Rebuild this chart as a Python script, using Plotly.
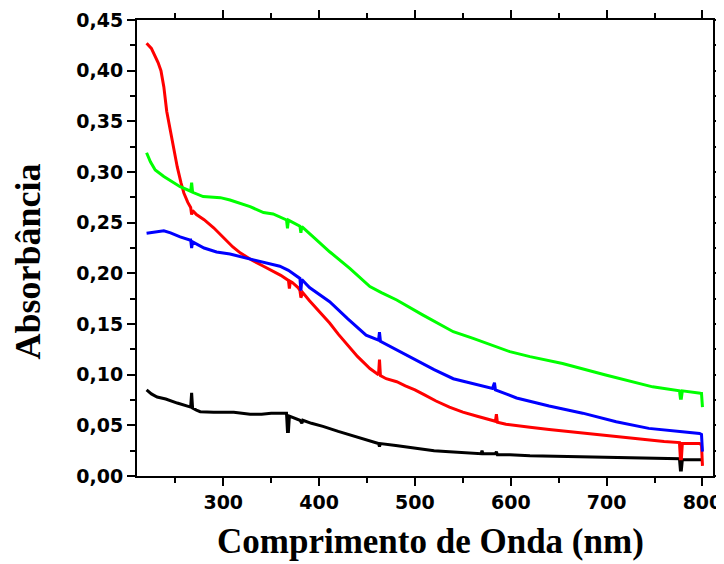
import plotly.graph_objects as go

red_x = [220, 225, 232, 235, 238, 241, 245, 249, 252, 256, 259, 263, 266, 267, 268, 272, 280, 290, 300, 310, 318, 330, 342, 352, 360, 368, 369, 370, 372, 378, 380, 381, 383, 390, 400, 411, 420, 430, 440, 453, 462, 463, 464, 470, 481, 490, 500, 510, 522, 536, 550, 565, 575, 584, 585, 586, 595, 606, 620, 640, 660, 675, 700, 720, 744, 760, 776, 777, 778, 779, 785, 797, 799, 800]
red_y = [0.427, 0.422, 0.408, 0.400, 0.384, 0.360, 0.340, 0.318, 0.305, 0.289, 0.279, 0.270, 0.265, 0.258, 0.262, 0.258, 0.253, 0.245, 0.236, 0.226, 0.220, 0.213, 0.207, 0.202, 0.198, 0.193, 0.185, 0.192, 0.191, 0.186, 0.183, 0.176, 0.181, 0.173, 0.163, 0.151, 0.140, 0.129, 0.118, 0.106, 0.100, 0.115, 0.099, 0.096, 0.093, 0.089, 0.085, 0.080, 0.074, 0.068, 0.063, 0.059, 0.056, 0.054, 0.061, 0.053, 0.051, 0.050, 0.048, 0.046, 0.044, 0.042, 0.040, 0.038, 0.0355, 0.034, 0.033, 0.017, 0.017, 0.032, 0.032, 0.032, 0.031, 0.010]

black_x = [220, 225, 231, 240, 252, 260, 265, 266, 267, 268, 272, 276, 290, 311, 328, 340, 350, 366, 367, 368, 369, 375, 380, 382, 383, 392, 404, 420, 440, 453, 462, 463, 464, 480, 501, 520, 536, 550, 569, 570, 571, 584, 585, 586, 599, 620, 650, 675, 700, 744, 776, 777, 778, 779, 797, 800]
black_y = [0.085, 0.081, 0.078, 0.076, 0.072, 0.070, 0.068, 0.068, 0.082, 0.067, 0.065, 0.0635, 0.063, 0.063, 0.061, 0.061, 0.062, 0.062, 0.044, 0.044, 0.059, 0.057, 0.055, 0.052, 0.055, 0.052, 0.049, 0.044, 0.038, 0.034, 0.032, 0.029, 0.032, 0.030, 0.027, 0.025, 0.024, 0.023, 0.022, 0.025, 0.022, 0.022, 0.024, 0.021, 0.021, 0.020, 0.0195, 0.019, 0.018, 0.0175, 0.017, 0.006, 0.006, 0.016, 0.016, 0.016]

blue_x = [220, 230, 238, 245, 255, 265, 266, 267, 268, 280, 293, 307, 320, 331, 345, 359, 368, 375, 380, 381, 382, 390, 400, 411, 430, 449, 462, 463, 464, 480, 498, 520, 540, 560, 581, 583, 584, 595, 606, 640, 675, 710, 744, 779, 797, 799, 800]
blue_y = [0.2395, 0.241, 0.242, 0.240, 0.236, 0.233, 0.233, 0.225, 0.231, 0.225, 0.221, 0.219, 0.216, 0.213, 0.210, 0.207, 0.203, 0.198, 0.195, 0.183, 0.194, 0.186, 0.179, 0.172, 0.155, 0.139, 0.134, 0.142, 0.133, 0.125, 0.116, 0.105, 0.096, 0.091, 0.0865, 0.092, 0.085, 0.081, 0.077, 0.069, 0.062, 0.0536, 0.047, 0.0437, 0.042, 0.041, 0.024]

green_x = [220, 224, 229, 238, 255, 265, 266, 267, 268, 279, 297, 307, 328, 342, 352, 366, 367, 368, 375, 380, 381, 382, 395, 411, 432, 453, 465, 481, 508, 540, 560, 581, 599, 620, 654, 699, 748, 776, 777, 778, 779, 798, 799, 800]
green_y = [0.319, 0.310, 0.302, 0.2955, 0.2855, 0.281, 0.281, 0.2895, 0.280, 0.2757, 0.2747, 0.2724, 0.2658, 0.260, 0.2586, 0.2527, 0.2445, 0.2525, 0.249, 0.2465, 0.240, 0.246, 0.235, 0.2213, 0.205, 0.187, 0.181, 0.1737, 0.159, 0.1424, 0.136, 0.129, 0.1227, 0.1178, 0.111, 0.0997, 0.088, 0.084, 0.0767, 0.0767, 0.084, 0.0816, 0.0815, 0.068]

x_ticks = [300, 400, 500, 600, 700, 800]
y_ticks = [0.00, 0.05, 0.10, 0.15, 0.20, 0.25, 0.30, 0.35, 0.40, 0.45]
x_title = "Comprimento de Onda (nm)"
y_title = "Absorbância"

fig = go.Figure()
for xs, ys, col in [(black_x, black_y, "#000000"), (red_x, red_y, "#ff0000"),
                    (blue_x, blue_y, "#0000ff"), (green_x, green_y, "#00ff00")]:
    fig.add_trace(go.Scatter(x=xs, y=ys, mode="lines",
                             line=dict(color=col, width=3), showlegend=False))

tickfont = dict(family="DejaVu Sans", size=19, color="black", weight="bold")
serif = "Liberation Serif, Times New Roman, serif"

fig.update_layout(
    width=716, height=556,
    margin=dict(l=129, r=11, t=12, b=88),
    paper_bgcolor="white", plot_bgcolor="white",
    separators=", ",
    xaxis=dict(range=[210, 811], tickvals=x_ticks, ticks="outside", ticklen=8, tickwidth=2,
               tickcolor="black", showline=True, linecolor="black", linewidth=2, mirror="ticks",
               showgrid=False, zeroline=False, tickfont=tickfont,
               minor=dict(dtick=50, tick0=0, ticks="outside", ticklen=5, tickwidth=2, tickcolor="black"),
               automargin=False),
    yaxis=dict(range=[0, 0.45], tickvals=y_ticks, tickformat=".2f", ticks="outside", ticklen=8,
               tickwidth=2, tickcolor="black", showline=True, linecolor="black", linewidth=2,
               mirror="ticks", showgrid=False, zeroline=False, tickfont=tickfont,
               minor=dict(dtick=0.025, tick0=0, ticks="outside", ticklen=5, tickwidth=2, tickcolor="black"),
               automargin=False),
    annotations=[
        dict(text=x_title, xref="paper", yref="paper", x=0.5087, y=-0.1447,
             xanchor="center", yanchor="middle", showarrow=False,
             font=dict(family=serif, size=35, color="black", weight="bold")),
        dict(text=y_title, xref="paper", yref="paper", x=-0.1884, y=0.4715,
             xanchor="center", yanchor="middle", showarrow=False, textangle=-90,
             font=dict(family=serif, size=36, color="black", weight="bold")),
    ],
)

fig.write_html("out.html")
